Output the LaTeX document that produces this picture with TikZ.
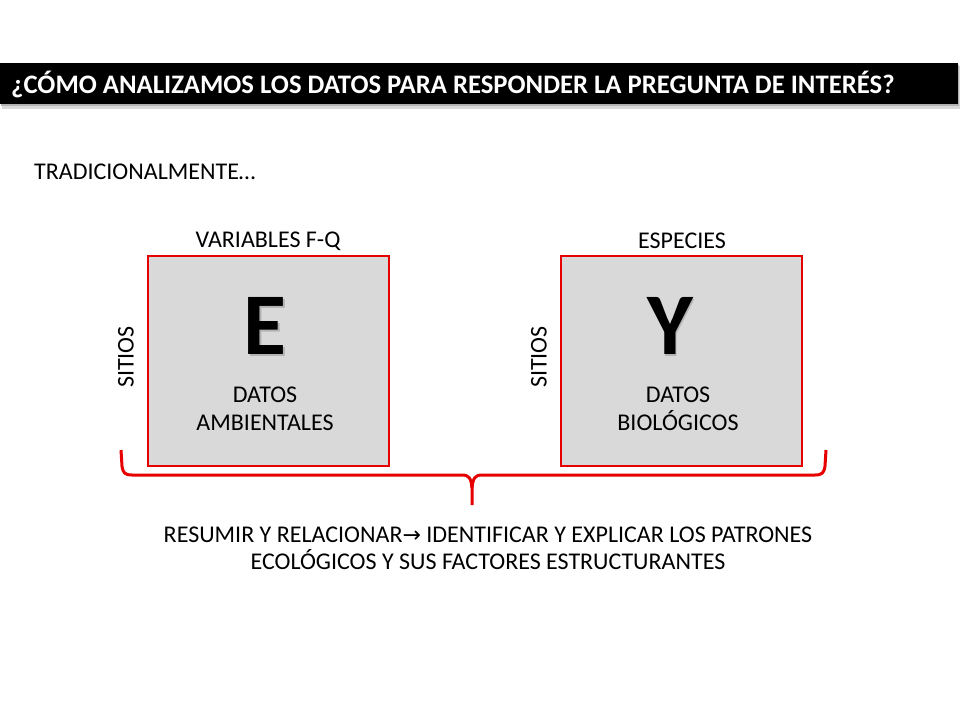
\documentclass[tikz,border=0pt]{standalone}
\usepackage{fontspec}
\setmainfont{Carlito}
\newfontfamily\symfont{DejaVu Sans}
\definecolor{boxred}{RGB}{230,0,0}
\definecolor{boxgray}{RGB}{217,217,217}
\begin{document}
\begin{tikzpicture}[x=1pt,y=-1pt,
  lbl/.style={font=\fontsize{24}{28}\selectfont, inner sep=0pt, align=center},
  databox/.style={draw=boxred, line width=2.2pt, fill=boxgray},
  bigletter/.style={font=\fontsize{88}{90}\selectfont\bfseries, inner sep=0pt},
  bracestyle/.style={draw=boxred, line width=3pt, line join=round}]
\useasboundingbox (0,0) rectangle (960,720);
\fill[white] (0,0) rectangle (960,720);
% title bar
\fill[black!15] (2,66) rectangle (960,109);
\fill[black!30] (1,65) rectangle (959,106);
\fill[black] (0,63) rectangle (958,104);
\node[font=\fontsize{26.7}{30}\selectfont\bfseries, text=white, anchor=west, inner sep=0pt] (title) at (11,84) {¿CÓMO ANALIZAMOS LOS DATOS PARA RESPONDER LA PREGUNTA DE INTERÉS?};
% intro
\node[lbl, anchor=west] (trad) at (34,172) {TRADICIONALMENTE…};
% boxes
\draw[databox] (148,256) rectangle (389,466);
\draw[databox] (561,256) rectangle (802,466);
\node[lbl] (varfq) at (268,241) {VARIABLES F-Q};
\node[lbl] (esp) at (682,241) {ESPECIES};
\node[lbl, rotate=90] (sit1) at (126,357) {SITIOS};
\node[lbl, rotate=90] (sit2) at (539,357) {SITIOS};
\node[bigletter, text=black!30] at (266.8,327.8) {E};
\node[bigletter] (E) at (265,326) {E};
\node[bigletter, text=black!30] at (671.8,327.8) {Y};
\node[bigletter] (Y) at (670,326) {Y};
\node[lbl, font=\fontsize{24}{28}\selectfont] (amb) at (265,409) {DATOS\\AMBIENTALES};
\node[lbl, font=\fontsize{24}{28}\selectfont] (bio) at (678,409) {DATOS\\BIOLÓGICOS};
% brace
\draw[bracestyle] (121,450) -- (122,466) .. controls (123,473) and (125,475) .. (132,475)
  -- (462,475) .. controls (469,475) and (471,478) .. (472,488) -- (472,505);
\draw[bracestyle] (826,450) -- (825,466) .. controls (824,473) and (822,475) .. (815,475)
  -- (482,475) .. controls (475,475) and (473,478) .. (472,488);
% bottom text
\node[lbl, font=\fontsize{24}{27}\selectfont] (summary) at (488,548) {RESUMIR Y RELACIONAR{\symfont\fontsize{22}{27}\selectfont→} IDENTIFICAR Y EXPLICAR LOS PATRONES\\ECOLÓGICOS Y SUS FACTORES ESTRUCTURANTES};
\end{tikzpicture}
\end{document}
